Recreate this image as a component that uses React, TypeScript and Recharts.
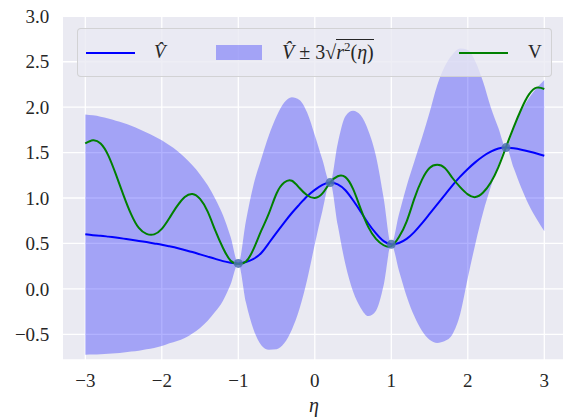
import { ComposedChart, Area, Line, Scatter, XAxis, YAxis, CartesianGrid } from "recharts";

// eta grid, step 0.1 from -3 to 3
const eta = [
  -3.0, -2.9, -2.8, -2.7, -2.6, -2.5, -2.4, -2.3, -2.2, -2.1, -2.0, -1.9, -1.8, -1.7, -1.6, -1.5,
  -1.4, -1.3, -1.2, -1.1, -1.0, -0.9, -0.8, -0.7, -0.6, -0.5, -0.4, -0.3, -0.2, -0.1, 0.0, 0.1,
  0.2, 0.3, 0.4, 0.5, 0.6, 0.7, 0.8, 0.9, 1.0, 1.1, 1.2, 1.3, 1.4, 1.5, 1.6, 1.7, 1.8, 1.9, 2.0,
  2.1, 2.2, 2.3, 2.4, 2.5, 2.6, 2.7, 2.8, 2.9, 3.0,
];

// GP mean (V hat)
const vHat = [
  0.6, 0.59, 0.585, 0.575, 0.565, 0.553, 0.54, 0.528, 0.515, 0.5, 0.485, 0.468, 0.45, 0.428, 0.405, 0.38,
  0.355, 0.33, 0.305, 0.288, 0.28, 0.295, 0.33, 0.395, 0.505, 0.62, 0.73, 0.835, 0.93, 1.02, 1.09, 1.145,
  1.17, 1.15, 1.085, 0.975, 0.85, 0.72, 0.61, 0.525, 0.49, 0.505, 0.55, 0.625, 0.72, 0.825, 0.93, 1.035, 1.14, 1.235, 1.32,
  1.395, 1.46, 1.51, 1.545, 1.555, 1.548, 1.532, 1.512, 1.49, 1.465,
];

// lower / upper edge of V hat +- 3 sqrt(r^2)
const bandLow = [
  -0.725, -0.723, -0.72, -0.715, -0.71, -0.7, -0.69, -0.68, -0.665, -0.65, -0.63, -0.6, -0.575, -0.54, -0.49, -0.43,
  -0.35, -0.25, -0.13, 0.05, 0.28, -0.15, -0.45, -0.62, -0.67, -0.665, -0.6, -0.45, -0.22, 0.1, 0.49, 0.86,
  1.17, 0.7, 0.27, -0.03, -0.21, -0.3, -0.24, 0.04, 0.49, 0.2, -0.08, -0.3, -0.46, -0.56, -0.595, -0.575, -0.5, -0.28, 0.12,
  0.5, 0.84, 1.12, 1.36, 1.555, 1.33, 1.11, 0.92, 0.77, 0.635,
];
const bandHigh = [
  1.92, 1.91, 1.895, 1.875, 1.85, 1.825, 1.795, 1.76, 1.72, 1.68, 1.635, 1.58, 1.52, 1.445, 1.36, 1.26,
  1.14, 0.99, 0.81, 0.57, 0.28, 0.75, 1.15, 1.43, 1.69, 1.9, 2.05, 2.11, 2.08, 1.94, 1.69, 1.42,
  1.17, 1.6, 1.9, 1.96, 1.91, 1.74, 1.46, 1.0, 0.49, 0.82, 1.13, 1.4, 1.66, 1.94, 2.24, 2.45, 2.58, 2.645, 2.63,
  2.5, 2.28, 2.0, 1.77, 1.555, 1.77, 1.96, 2.1, 2.21, 2.3,
];

// true V
const vTrue = [
  1.6, 1.635, 1.6, 1.47, 1.26, 1.03, 0.82, 0.67, 0.605, 0.6, 0.66, 0.78, 0.91, 1.01, 1.045, 0.99,
  0.85, 0.64, 0.45, 0.31, 0.275, 0.3, 0.44, 0.64, 0.83, 1.05, 1.17, 1.19, 1.11, 1.03, 1.0, 1.05,
  1.17, 1.24, 1.23, 1.1, 0.88, 0.68, 0.55, 0.48, 0.47, 0.57, 0.74, 0.99, 1.2, 1.33, 1.365, 1.33, 1.22, 1.12, 1.04,
  1.01, 1.06, 1.17, 1.34, 1.56, 1.78, 1.98, 2.14, 2.215, 2.2,
];

// observed points
const obsEta = [-1.0, 0.2, 1.0, 2.5];
const obsV = [0.28, 1.17, 0.49, 1.555];

const xTicks = [-3, -2, -1, 0, 1, 2, 3];
const yTicks = [-0.5, 0, 0.5, 1, 1.5, 2, 2.5, 3];

const rows = eta.map((x, i) => ({
  eta: x,
  vHat: vHat[i],
  band: [bandLow[i], bandHigh[i]],
  v: vTrue[i],
}));
const obs = obsEta.map((x, i) => ({ eta: x, obs: obsV[i] }));

const FONT = "Liberation Serif, Times New Roman, Tinos, DejaVu Serif, Noto Serif, serif";
const INK = "#262626";
const minus = (s: string) => s.replace("-", "\u2212");

const tickStyle = { fontFamily: FONT, fontSize: 19, fill: INK };

const Dot = (p: any) => <circle cx={p.cx} cy={p.cy} r={4.5} fill="#4C72B0" fillOpacity={0.85} />;

const Legend = () => (
  <div
    style={{
      position: "absolute",
      left: 77,
      top: 28,
      width: 475,
      height: 49,
      boxSizing: "border-box",
      background: "rgba(234,234,242,0.8)",
      border: "1px solid rgba(204,204,204,0.8)",
      borderRadius: 4,
      fontFamily: FONT,
      fontSize: 19,
      color: INK,
    }}
  >
    <div style={{ position: "absolute", left: 8, top: 23, width: 49, height: 2, background: "#0000ff" }} />
    <span style={{ position: "absolute", left: 76, top: 12, lineHeight: "22px", fontStyle: "italic" }}>V̂</span>
    <div style={{ position: "absolute", left: 138, top: 16, width: 46, height: 15, background: "rgba(0,0,255,0.3)" }} />
    <span style={{ position: "absolute", left: 204, top: 12, lineHeight: "22px", whiteSpace: "nowrap", fontSize: 20 }}>
      <i>V̂</i> ± 3√<span style={{ borderTop: "1px solid #262626", paddingTop: 1 }}><i>r</i><sup style={{ fontSize: 13, lineHeight: 0 }}>2</sup>(<i>η</i>)</span>
    </span>
    <div style={{ position: "absolute", left: 381, top: 23, width: 49, height: 2, background: "#008000" }} />
    <span style={{ position: "absolute", left: 450, top: 12, lineHeight: "22px" }}>V</span>
  </div>
);

export default function App() {
  return (
    <div style={{ position: "absolute", left: 0, top: 0, width: 563, height: 419, overflow: "hidden", background: "#fff" }}>
      <ComposedChart
        width={580}
        height={419}
        data={rows}
        margin={{ top: 16.3, right: 12.75, bottom: 0, left: 0 }}
      >
        <CartesianGrid fill="#EAEAF2" stroke="#ffffff" strokeWidth={1.3} />
        <XAxis
          dataKey="eta"
          type="number"
          domain={[-3.3, 3.3]}
          ticks={xTicks}
          allowDataOverflow
          axisLine={false}
          tickLine={false}
          tickSize={0}
          tickMargin={14}
          height={59}
          tick={tickStyle}
          tickFormatter={(v: number) => minus(String(v))}
        />
        <YAxis
          type="number"
          domain={[-0.783, 3.0]}
          ticks={yTicks}
          allowDataOverflow
          axisLine={false}
          tickLine={false}
          tickSize={0}
          tickMargin={13}
          width={62.35}
          tick={tickStyle}
          tickFormatter={(v: number) => minus(v.toFixed(1))}
        />
        <Area
          dataKey="band"
          type="monotone"
          stroke="none"
          fill="#0000ff"
          fillOpacity={0.3}
          isAnimationActive={false}
        />
        <Line dataKey="vHat" type="natural" stroke="#0000ff" strokeWidth={2} dot={false} isAnimationActive={false} />
        <Line dataKey="v" type="natural" stroke="#008000" strokeWidth={2} dot={false} isAnimationActive={false} />
        <Scatter data={obs} dataKey="obs" shape={Dot} isAnimationActive={false} />
      </ComposedChart>
      <Legend />
      <div
        style={{
          position: "absolute",
          left: 304,
          top: 394,
          width: 20,
          textAlign: "center",
          fontFamily: FONT,
          fontSize: 20,
          fontStyle: "italic",
          color: INK,
        }}
      >
        η
      </div>
    </div>
  );
}
